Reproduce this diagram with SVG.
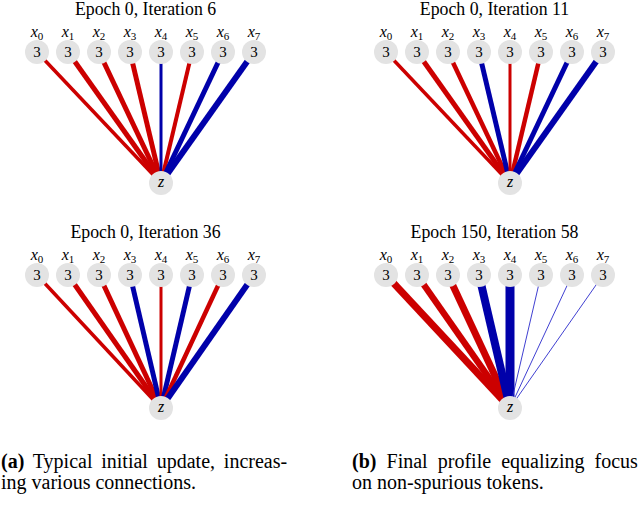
<svg xmlns="http://www.w3.org/2000/svg" width="640" height="518" viewBox="0 0 640 518">
<style>
.t{font-family:"Liberation Serif","Times New Roman",serif;font-size:17.8px;fill:#000;text-anchor:middle}
.cap{font-family:"Liberation Serif","Times New Roman",serif;font-size:20px;fill:#000}
.bf{font-weight:bold}
.xl{font-family:"Liberation Serif","Times New Roman",serif;font-style:italic;font-size:16px;fill:#000;text-anchor:middle}
.sub{font-size:11px;font-style:normal}
.n{fill:#e3e3e3}
.v{font-family:"Liberation Serif","Times New Roman",serif;font-size:15px;fill:#000;text-anchor:middle}
.r{stroke:#cc0000;stroke-linecap:butt}
.b{stroke:#0000aa;stroke-linecap:butt}
.bt{stroke:#2a2acc;stroke-linecap:butt;stroke-width:0.9}
</style>
<rect width="640" height="518" fill="#fff"/>

<!-- Panel A1 -->
<text class="t" x="145.5" y="14.5">Epoch 0, Iteration 6</text>
<g id="edges-a1">
<line class="r" x1="37" y1="52" x2="161" y2="183" stroke-width="3.5"/>
<line class="r" x1="68" y1="52" x2="161" y2="183" stroke-width="5"/>
<line class="r" x1="99" y1="52" x2="161" y2="183" stroke-width="5"/>
<line class="r" x1="130" y1="52" x2="161" y2="183" stroke-width="5"/>
<line class="b" x1="161" y1="52" x2="161" y2="183" stroke-width="3"/>
<line class="r" x1="192" y1="52" x2="161" y2="183" stroke-width="4"/>
<line class="b" x1="223" y1="52" x2="161" y2="183" stroke-width="5"/>
<line class="b" x1="254" y1="52" x2="161" y2="183" stroke-width="6"/>
</g>
<g id="a1-x0"><circle class="n" cx="37" cy="52" r="12"/><text class="v" x="37" y="57">3</text><text class="xl" x="37" y="37">x<tspan class="sub" dy="3">0</tspan></text></g>
<g id="a1-x1"><circle class="n" cx="68" cy="52" r="12"/><text class="v" x="68" y="57">3</text><text class="xl" x="68" y="37">x<tspan class="sub" dy="3">1</tspan></text></g>
<g id="a1-x2"><circle class="n" cx="99" cy="52" r="12"/><text class="v" x="99" y="57">3</text><text class="xl" x="99" y="37">x<tspan class="sub" dy="3">2</tspan></text></g>
<g id="a1-x3"><circle class="n" cx="130" cy="52" r="12"/><text class="v" x="130" y="57">3</text><text class="xl" x="130" y="37">x<tspan class="sub" dy="3">3</tspan></text></g>
<g id="a1-x4"><circle class="n" cx="161" cy="52" r="12"/><text class="v" x="161" y="57">3</text><text class="xl" x="161" y="37">x<tspan class="sub" dy="3">4</tspan></text></g>
<g id="a1-x5"><circle class="n" cx="192" cy="52" r="12"/><text class="v" x="192" y="57">3</text><text class="xl" x="192" y="37">x<tspan class="sub" dy="3">5</tspan></text></g>
<g id="a1-x6"><circle class="n" cx="223" cy="52" r="12"/><text class="v" x="223" y="57">3</text><text class="xl" x="223" y="37">x<tspan class="sub" dy="3">6</tspan></text></g>
<g id="a1-x7"><circle class="n" cx="254" cy="52" r="12"/><text class="v" x="254" y="57">3</text><text class="xl" x="254" y="37">x<tspan class="sub" dy="3">7</tspan></text></g>
<g id="a1-z"><circle class="n" cx="161" cy="183" r="12"/><text class="xl" x="161" y="187">z</text></g>

<!-- Panel B1 -->
<text class="t" x="494.5" y="14.5">Epoch 0, Iteration 11</text>
<g id="edges-b1">
<line class="r" x1="386" y1="52" x2="510" y2="183" stroke-width="3.5"/>
<line class="r" x1="417" y1="52" x2="510" y2="183" stroke-width="5"/>
<line class="r" x1="448" y1="52" x2="510" y2="183" stroke-width="4.5"/>
<line class="b" x1="479" y1="52" x2="510" y2="183" stroke-width="5"/>
<line class="r" x1="510" y1="52" x2="510" y2="183" stroke-width="3"/>
<line class="r" x1="541" y1="52" x2="510" y2="183" stroke-width="4.5"/>
<line class="b" x1="572" y1="52" x2="510" y2="183" stroke-width="5"/>
<line class="b" x1="603" y1="52" x2="510" y2="183" stroke-width="6"/>
</g>
<g id="b1-x0"><circle class="n" cx="386" cy="52" r="12"/><text class="v" x="386" y="57">3</text><text class="xl" x="386" y="37">x<tspan class="sub" dy="3">0</tspan></text></g>
<g id="b1-x1"><circle class="n" cx="417" cy="52" r="12"/><text class="v" x="417" y="57">3</text><text class="xl" x="417" y="37">x<tspan class="sub" dy="3">1</tspan></text></g>
<g id="b1-x2"><circle class="n" cx="448" cy="52" r="12"/><text class="v" x="448" y="57">3</text><text class="xl" x="448" y="37">x<tspan class="sub" dy="3">2</tspan></text></g>
<g id="b1-x3"><circle class="n" cx="479" cy="52" r="12"/><text class="v" x="479" y="57">3</text><text class="xl" x="479" y="37">x<tspan class="sub" dy="3">3</tspan></text></g>
<g id="b1-x4"><circle class="n" cx="510" cy="52" r="12"/><text class="v" x="510" y="57">3</text><text class="xl" x="510" y="37">x<tspan class="sub" dy="3">4</tspan></text></g>
<g id="b1-x5"><circle class="n" cx="541" cy="52" r="12"/><text class="v" x="541" y="57">3</text><text class="xl" x="541" y="37">x<tspan class="sub" dy="3">5</tspan></text></g>
<g id="b1-x6"><circle class="n" cx="572" cy="52" r="12"/><text class="v" x="572" y="57">3</text><text class="xl" x="572" y="37">x<tspan class="sub" dy="3">6</tspan></text></g>
<g id="b1-x7"><circle class="n" cx="603" cy="52" r="12"/><text class="v" x="603" y="57">3</text><text class="xl" x="603" y="37">x<tspan class="sub" dy="3">7</tspan></text></g>
<g id="b1-z"><circle class="n" cx="510" cy="183" r="12"/><text class="xl" x="510" y="187">z</text></g>

<!-- Panel A2 -->
<text class="t" x="145.5" y="238">Epoch 0, Iteration 36</text>
<g id="edges-a2">
<line class="r" x1="37" y1="275" x2="161" y2="408" stroke-width="3.5"/>
<line class="r" x1="68" y1="275" x2="161" y2="408" stroke-width="5"/>
<line class="r" x1="99" y1="275" x2="161" y2="408" stroke-width="5"/>
<line class="b" x1="130" y1="275" x2="161" y2="408" stroke-width="5"/>
<line class="r" x1="161" y1="275" x2="161" y2="408" stroke-width="3"/>
<line class="b" x1="192" y1="275" x2="161" y2="408" stroke-width="5"/>
<line class="r" x1="223" y1="275" x2="161" y2="408" stroke-width="4.5"/>
<line class="b" x1="254" y1="275" x2="161" y2="408" stroke-width="6"/>
</g>
<g id="a2-x0"><circle class="n" cx="37" cy="275" r="12"/><text class="v" x="37" y="280">3</text><text class="xl" x="37" y="260">x<tspan class="sub" dy="3">0</tspan></text></g>
<g id="a2-x1"><circle class="n" cx="68" cy="275" r="12"/><text class="v" x="68" y="280">3</text><text class="xl" x="68" y="260">x<tspan class="sub" dy="3">1</tspan></text></g>
<g id="a2-x2"><circle class="n" cx="99" cy="275" r="12"/><text class="v" x="99" y="280">3</text><text class="xl" x="99" y="260">x<tspan class="sub" dy="3">2</tspan></text></g>
<g id="a2-x3"><circle class="n" cx="130" cy="275" r="12"/><text class="v" x="130" y="280">3</text><text class="xl" x="130" y="260">x<tspan class="sub" dy="3">3</tspan></text></g>
<g id="a2-x4"><circle class="n" cx="161" cy="275" r="12"/><text class="v" x="161" y="280">3</text><text class="xl" x="161" y="260">x<tspan class="sub" dy="3">4</tspan></text></g>
<g id="a2-x5"><circle class="n" cx="192" cy="275" r="12"/><text class="v" x="192" y="280">3</text><text class="xl" x="192" y="260">x<tspan class="sub" dy="3">5</tspan></text></g>
<g id="a2-x6"><circle class="n" cx="223" cy="275" r="12"/><text class="v" x="223" y="280">3</text><text class="xl" x="223" y="260">x<tspan class="sub" dy="3">6</tspan></text></g>
<g id="a2-x7"><circle class="n" cx="254" cy="275" r="12"/><text class="v" x="254" y="280">3</text><text class="xl" x="254" y="260">x<tspan class="sub" dy="3">7</tspan></text></g>
<g id="a2-z"><circle class="n" cx="161" cy="408" r="12"/><text class="xl" x="161" y="412">z</text></g>

<!-- Panel B2 -->
<text class="t" x="494.5" y="238">Epoch 150, Iteration 58</text>
<g id="edges-b2">
<line class="r" x1="386" y1="275" x2="510" y2="408" stroke-width="7"/>
<line class="r" x1="417" y1="275" x2="510" y2="408" stroke-width="6.5"/>
<line class="r" x1="448" y1="275" x2="510" y2="408" stroke-width="7"/>
<line class="b" x1="479" y1="275" x2="510" y2="408" stroke-width="8"/>
<line class="b" x1="510" y1="275" x2="510" y2="408" stroke-width="9"/>
<line class="bt" x1="541" y1="275" x2="510" y2="408"/>
<line class="bt" x1="572" y1="275" x2="510" y2="408"/>
<line class="bt" x1="603" y1="275" x2="510" y2="408"/>
</g>
<g id="b2-x0"><circle class="n" cx="386" cy="275" r="12"/><text class="v" x="386" y="280">3</text><text class="xl" x="386" y="260">x<tspan class="sub" dy="3">0</tspan></text></g>
<g id="b2-x1"><circle class="n" cx="417" cy="275" r="12"/><text class="v" x="417" y="280">3</text><text class="xl" x="417" y="260">x<tspan class="sub" dy="3">1</tspan></text></g>
<g id="b2-x2"><circle class="n" cx="448" cy="275" r="12"/><text class="v" x="448" y="280">3</text><text class="xl" x="448" y="260">x<tspan class="sub" dy="3">2</tspan></text></g>
<g id="b2-x3"><circle class="n" cx="479" cy="275" r="12"/><text class="v" x="479" y="280">3</text><text class="xl" x="479" y="260">x<tspan class="sub" dy="3">3</tspan></text></g>
<g id="b2-x4"><circle class="n" cx="510" cy="275" r="12"/><text class="v" x="510" y="280">3</text><text class="xl" x="510" y="260">x<tspan class="sub" dy="3">4</tspan></text></g>
<g id="b2-x5"><circle class="n" cx="541" cy="275" r="12"/><text class="v" x="541" y="280">3</text><text class="xl" x="541" y="260">x<tspan class="sub" dy="3">5</tspan></text></g>
<g id="b2-x6"><circle class="n" cx="572" cy="275" r="12"/><text class="v" x="572" y="280">3</text><text class="xl" x="572" y="260">x<tspan class="sub" dy="3">6</tspan></text></g>
<g id="b2-x7"><circle class="n" cx="603" cy="275" r="12"/><text class="v" x="603" y="280">3</text><text class="xl" x="603" y="260">x<tspan class="sub" dy="3">7</tspan></text></g>
<g id="b2-z"><circle class="n" cx="510" cy="408" r="12"/><text class="xl" x="510" y="412">z</text></g>

<!-- Captions -->
<g id="caption-a">
<text class="cap" x="1" y="468" word-spacing="3.8"><tspan class="bf">(a)</tspan> Typical initial update, increas-</text>
<text class="cap" x="1" y="489">ing various connections.</text>
</g>
<g id="caption-b">
<text class="cap" x="352" y="468" word-spacing="5.1"><tspan class="bf">(b)</tspan> Final profile equalizing focus</text>
<text class="cap" x="352" y="489">on non-spurious tokens.</text>
</g>
</svg>
